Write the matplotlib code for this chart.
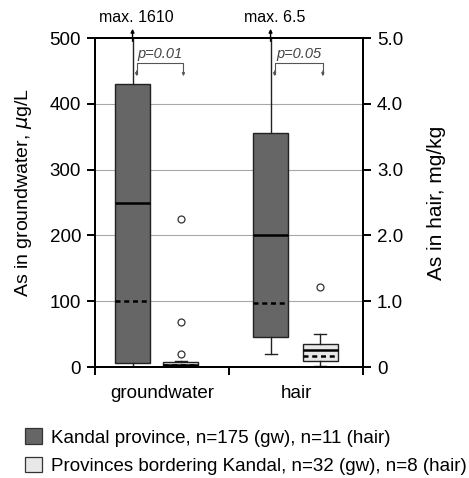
import matplotlib
matplotlib.use("Agg")
import matplotlib.pyplot as plt
from matplotlib.patches import Patch

plt.rcParams['font.family'] = ['Liberation Sans', 'DejaVu Sans']

# Box statistics
groups = ['groundwater', 'hair']
series = ['Kandal province, n=175 (gw), n=11 (hair)',
          'Provinces bordering Kandal, n=32 (gw), n=8 (hair)']

# groundwater, µg/L
gw_kandal = dict(whislo=0, q1=6, med=250, q3=430, whishi=1610, mean=100, fliers=[])
gw_border = dict(whislo=0.5, q1=1, med=3, q3=7, whishi=9, mean=3, fliers=[20, 68, 225])
# hair, mg/kg
hair_kandal = dict(whislo=0.2, q1=0.45, med=2.0, q3=3.55, whishi=6.5, mean=0.97, fliers=[])
hair_border = dict(whislo=0.02, q1=0.09, med=0.26, q3=0.35, whishi=0.5, mean=0.17, fliers=[1.22])

gw_max_label = 'max. 1610'
hair_max_label = 'max. 6.5'
p_values = ['p=0.01', 'p=0.05']

colors = ['#666666', '#e8e8e8']
positions = [[0.28, 0.64], [1.31, 1.68]]

fig = plt.figure(figsize=(4.69, 4.78), dpi=100)
ax = fig.add_axes([0.2026, 0.2322, 0.5714, 0.6883])
ax2 = ax.twinx()

ax.set_xlim(0, 2)
ax.set_ylim(0, 500)
ax2.set_ylim(0, 5)

for y in [100, 200, 300, 400]:
    ax.axhline(y, color='#a8a8a8', lw=0.8, zorder=0)


def draw(axis, stats, pos, color):
    bp = axis.bxp([stats], positions=[pos], widths=0.26, patch_artist=True,
                  showmeans=True, meanline=True, capwidths=[0.09],
                  boxprops=dict(facecolor=color, edgecolor='#222222', lw=1.0),
                  medianprops=dict(color='black', lw=1.8),
                  meanprops=dict(color='black', lw=1.8, ls=(0, (2, 1.5))),
                  whiskerprops=dict(color='#222222', lw=1.0),
                  capprops=dict(color='#222222', lw=1.0),
                  flierprops=dict(marker='o', markerfacecolor='white',
                                  markeredgecolor='#333333', markersize=5, mew=0.9),
                  manage_ticks=False)
    return bp


draw(ax, gw_kandal, positions[0][0], colors[0])
draw(ax, gw_border, positions[0][1], colors[1])
draw(ax2, hair_kandal, positions[1][0], colors[0])
draw(ax2, hair_border, positions[1][1], colors[1])

# whiskers running off the top: arrow + max label
for axis, pos, label in [(ax, positions[0][0], gw_max_label),
                         (ax2, positions[1][0], hair_max_label)]:
    axis.annotate('', xy=(pos, 1.028), xycoords=('data', 'axes fraction'),
                  xytext=(pos, 0.99), textcoords=('data', 'axes fraction'),
                  arrowprops=dict(arrowstyle='-|>', color='black', lw=1.0,
                                  mutation_scale=5, shrinkA=0, shrinkB=0),
                  annotation_clip=False)
    axis.text(pos + 0.03, 1.063, label, transform=axis.get_xaxis_transform(),
              ha='center', va='center', fontsize=11.5)

# p-value brackets
for (p1, p2), ptxt in zip(positions, p_values):
    x1, x2 = p1 + 0.03, p2 + 0.02
    ax.plot([x1, x1, x2, x2], [446, 462, 462, 446], color='#555555', lw=0.8)
    for xx in (x1, x2):
        ax.annotate('', xy=(xx, 442), xytext=(xx, 450),
                    arrowprops=dict(arrowstyle='-|>', color='#555555', lw=0.8,
                                    mutation_scale=4, shrinkA=0, shrinkB=0))
    ax.text((x1 + x2) / 2, 476, ptxt, ha='center', va='center',
            fontsize=10.5, style='italic', color='#444444')

# axes styling
for axis in (ax, ax2):
    for s in axis.spines.values():
        s.set_linewidth(1.4)
ax.set_xticks([0, 1, 2])
ax.set_xticklabels([])
ax.set_xticks([0.5, 1.5], minor=True)
ax.set_xticklabels(groups, minor=True, fontsize=13.5)
ax.tick_params(axis='x', which='major', direction='out', length=6, width=1.4)
ax.tick_params(axis='x', which='minor', length=0, pad=13)
ax.set_yticks([0, 100, 200, 300, 400, 500])
ax.tick_params(axis='y', direction='out', length=6, width=1.4, labelsize=13.5, pad=4)
ax2.set_yticks([0, 1, 2, 3, 4, 5])
ax2.set_yticklabels(['0', '1.0', '2.0', '3.0', '4.0', '5.0'])
ax2.tick_params(axis='y', direction='out', length=6, width=1.4, labelsize=13.5, pad=4)

ax.set_ylabel(r'As in groundwater, $\mu$g/L', fontsize=14, labelpad=11)
ax.yaxis.label.set_y(0.53)
ax2.set_ylabel('As in hair, mg/kg', fontsize=15, labelpad=17)

handles = [Patch(facecolor=c, edgecolor='#333333', lw=0.9) for c in colors]
fig.legend(handles, series, loc='upper left', bbox_to_anchor=(0.053, 0.104),
           frameon=False, fontsize=13.5, handlelength=0.9, handleheight=0.9,
           handletextpad=0.48, borderpad=0, labelspacing=0.55, borderaxespad=0)

fig.savefig('out.png', dpi=100)
